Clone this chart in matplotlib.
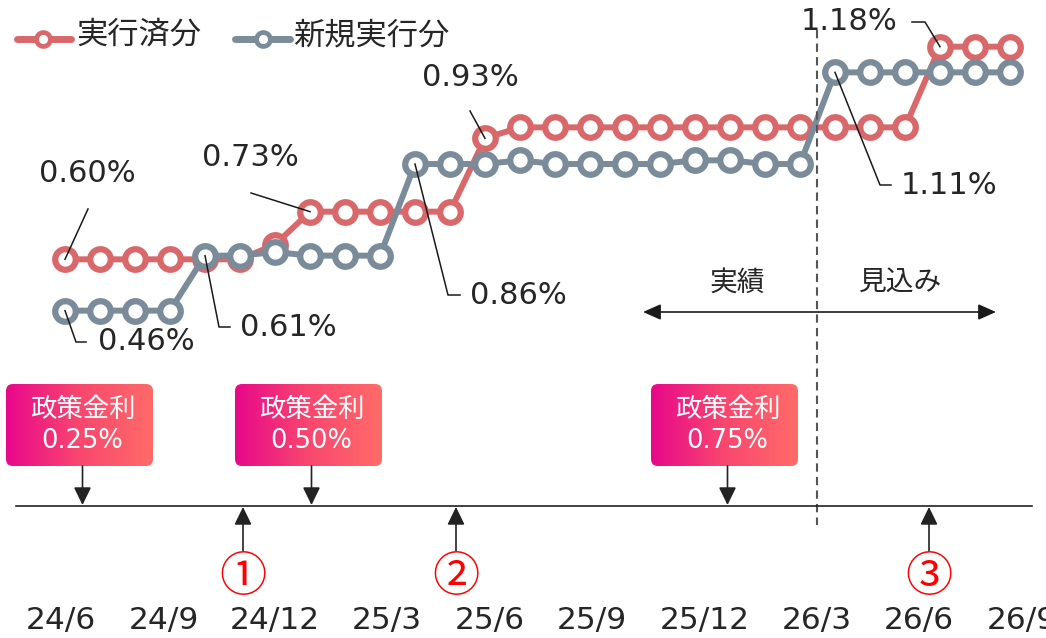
import numpy as np
import matplotlib
matplotlib.use('Agg')
import matplotlib.pyplot as plt
from matplotlib.patches import FancyBboxPatch

plt.rcParams['font.family'] = ['DejaVu Sans', 'Noto Sans CJK JP']
JP = ['Noto Sans CJK JP', 'DejaVu Sans']

# data: monthly, 24/6 .. 26/9
months = np.arange(28)
jikkou_sumi = [0.60, 0.60, 0.60, 0.60, 0.60, 0.60, 0.64,
               0.73, 0.73, 0.73, 0.73, 0.73, 0.93,
               0.96, 0.96, 0.96, 0.96, 0.96, 0.96, 0.96, 0.96, 0.96, 0.96, 0.96, 0.96,
               1.18, 1.18, 1.18]
shinki = [0.46, 0.46, 0.46, 0.46, 0.61, 0.61, 0.62, 0.61, 0.61, 0.61,
          0.86, 0.86, 0.86, 0.87, 0.86, 0.86, 0.86, 0.86, 0.87, 0.87, 0.86, 0.86,
          1.11, 1.11, 1.11, 1.11, 1.11, 1.11]
series_names = ['実行済分', '新規実行分']
tick_labels = ['24/6', '24/9', '24/12', '25/3', '25/6', '25/9', '25/12', '26/3', '26/6', '26/9']
policy_rates = ['0.25%', '0.50%', '0.75%']
events = ['①', '②', '③']

RED = '#d9686b'
GRAY = '#7a8b9a'
TXT = '#262626'

W, H = 1046, 638
fig = plt.figure(figsize=(W / 100, H / 100), dpi=100)

# chart axes
ax = fig.add_axes([30 / W, 1 - 369.3 / H, 1015 / W, 366.6 / H])
ax.set_xlim(-1, 28)
ax.set_ylim(0.3, 1.3)
ax.axis('off')
for vals, col in [(jikkou_sumi, RED), (shinki, GRAY)]:
    ax.plot(months, vals, color=col, lw=4.3, marker='o', ms=14.8, mew=4.5,
            mfc='white', mec=col, clip_on=False, solid_capstyle='round')

# overlay in pixel coords
ov = fig.add_axes([0, 0, 1, 1], zorder=5)
ov.set_xlim(0, W)
ov.set_ylim(H, 0)
ov.axis('off')


def anchor(vals, i):
    x, y = ax.transData.transform((months[i], vals[i]))
    return x, H - y


# legend
for (x0, x1, xm, xt), name, col in [((17, 71, 43, 76), series_names[0], RED),
                                    ((235, 290, 263, 293), series_names[1], GRAY)]:
    ov.plot([x0, x1], [39, 39], color=col, lw=5, solid_capstyle='round')
    ov.plot([xm], [39], marker='o', ms=10, mew=3.4, mfc='white', mec=col)
    ov.text(xt, 35, name, fontsize=22.5, family=JP, color=TXT, ha='left', va='center')

# value labels with leader lines
labels = [
    (jikkou_sumi, 0, (87, 173), 'center', [(88, 209)], []),
    (shinki, 0, (98, 342), 'left', [], [(76, 342), (86, 342)]),
    (shinki, 4, (240, 327), 'left', [], [(219, 327), (230, 327)]),
    (jikkou_sumi, 7, (250, 157), 'center', [(251, 193)], []),
    (shinki, 10, (470, 295), 'left', [], [(448, 295), (460, 295)]),
    (jikkou_sumi, 12, (470, 77), 'center', [(470, 111)], []),
    (jikkou_sumi, 25, (849, 22), 'center', [(912, 22), (925, 22)], []),
    (shinki, 22, (901, 185), 'left', [], [(880, 185), (891, 185)]),
]
for vals, i, (tx, ty), ha, pre, post in labels:
    a = anchor(vals, i)
    pts = pre + [a] + post
    ov.plot([p[0] for p in pts], [p[1] for p in pts], color='#1a1a1a', lw=1.1)
    ov.text(tx, ty, f'{vals[i]:.2f}%', fontsize=22, color=TXT, ha=ha, va='center')

# 実績 / 見込み separator
ov.plot([817, 817], [30, 525], color='#555555', lw=1.5, ls=(0, (4, 2.5)))
ov.annotate('', xy=(996, 312), xytext=(643, 312),
            arrowprops=dict(arrowstyle='<|-|>,head_length=0.45,head_width=0.2',
                            mutation_scale=24, color='#1a1a1a', lw=1.2,
                            shrinkA=0, shrinkB=0))
ov.text(737, 283, '実績', fontsize=20, family=JP, color=TXT, ha='center', va='center')
ov.text(901, 283, '見込み', fontsize=20, family=JP, color=TXT, ha='center', va='center')

# timeline
ov.plot([16, 1032], [506, 506], color='#222222', lw=1.2)
arrow_kw = dict(arrowstyle='-|>,head_length=0.45,head_width=0.22', mutation_scale=24,
                color='#222222', lw=1.2, shrinkA=0, shrinkB=0)

grad = np.linspace(0, 1, 256).reshape(1, -1)
cmap = matplotlib.colors.LinearSegmentedColormap.from_list('pol', ['#e8078b', '#f9476f', '#ff6b68'])
box_left = [6, 235, 651]
for bx, rate in zip(box_left, policy_rates):
    bw, by0, by1 = 147, 384, 466
    patch = FancyBboxPatch((bx, by0), bw, by1 - by0,
                           boxstyle='round,pad=0,rounding_size=7',
                           fc='none', ec='none')
    ov.add_patch(patch)
    im = ov.imshow(grad, cmap=cmap, extent=(bx, bx + bw, by1, by0), aspect='auto', zorder=2)
    im.set_clip_path(patch)
    cx = bx + bw / 2 + 3
    ov.text(cx, 409, '政策金利', fontsize=19, family=JP, color='white', ha='center', va='center', zorder=3)
    ov.text(cx, 441, rate, fontsize=18.5, color='white', ha='center', va='center', zorder=3)
    ov.annotate('', xy=(cx, 505), xytext=(cx, by1), arrowprops=arrow_kw)

for ex, ev in zip([243, 456, 929], events):
    ov.annotate('', xy=(ex, 507), xytext=(ex, 551), arrowprops=arrow_kw)
    ov.text(ex, 578, ev, fontsize=34, family=JP, color='#ff0000', ha='center', va='center')

ov.set_xlim(0, W)
ov.set_ylim(H, 0)

tick_px = [61, 164, 275, 387, 490, 592, 705, 817, 919, 1022]
for x, lab in zip(tick_px, tick_labels):
    ov.text(x, 621, lab, fontsize=22.5, color=TXT, ha='center', va='center')

fig.savefig('out.png', dpi=100)
